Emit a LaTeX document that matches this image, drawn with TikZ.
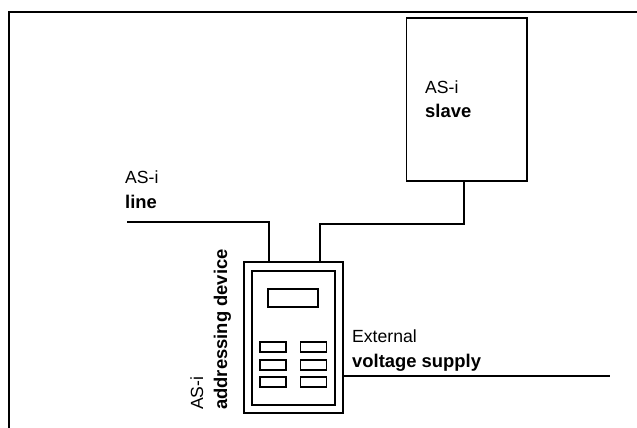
\documentclass[tikz,border=0pt]{standalone}
\usepackage{fontspec}
\setmainfont{Liberation Sans}
\begin{document}
\begin{tikzpicture}[x=1pt,y=-1pt,line join=miter,
  frameline/.style={line width=2pt},
  wire/.style={line width=1.5pt},
  boxst/.style={draw,line width=1.5pt,inner sep=0pt},
  lab/.style={font=\fontsize{17.6}{20}\selectfont,inner sep=0pt,anchor=base west},
  blab/.style={font=\fontsize{18.4}{20}\selectfont\bfseries,inner sep=0pt,anchor=base west}]
\useasboundingbox (0,0) rectangle (637,428);
\draw[frameline] (9.2,428) -- (9.2,12) -- (637,12);
\node[boxst,minimum width=120.5pt,minimum height=163pt] (slave) at (466.5,99.5) {};
\node[boxst,minimum width=99pt,minimum height=151pt] (dev) at (293.5,337.5) {};
\node[boxst,minimum width=83pt,minimum height=134pt] (inner) at (293.5,338) {};
\node[boxst,minimum width=50pt,minimum height=18pt] (disp) at (293,298) {};
\foreach \n/\x/\y in {a/273/347,b/313.5/347,c/273/365,d/313.5/365,e/273/382,f/313.5/382}
  \node[boxst,minimum width=26pt,minimum height=10pt] (\n) at (\x,\y) {};
\coordinate (linestart) at (127,222);
\draw[wire] (linestart) -- (269,222) -- (269,262);
\draw[wire] (320,262) -- (320,224) -- (464,224) -- (464,181);
\draw[wire] (343,376) -- (610,376);
\node[lab] (t1) at (425,93) {AS-i};
\node[blab] (t2) at (425,117) {slave};
\node[lab] (t3) at (125,183) {AS-i};
\node[blab] (t4) at (125,208) {line};
\node[lab] (t5) at (352,342) {External};
\node[blab] (t6) at (352,367) {voltage supply};
\node[lab,rotate=90] (t7) at (203,410) {AS-i};
\node[blab,rotate=90] (t8) at (227,410) {addressing device};
\end{tikzpicture}
\end{document}
